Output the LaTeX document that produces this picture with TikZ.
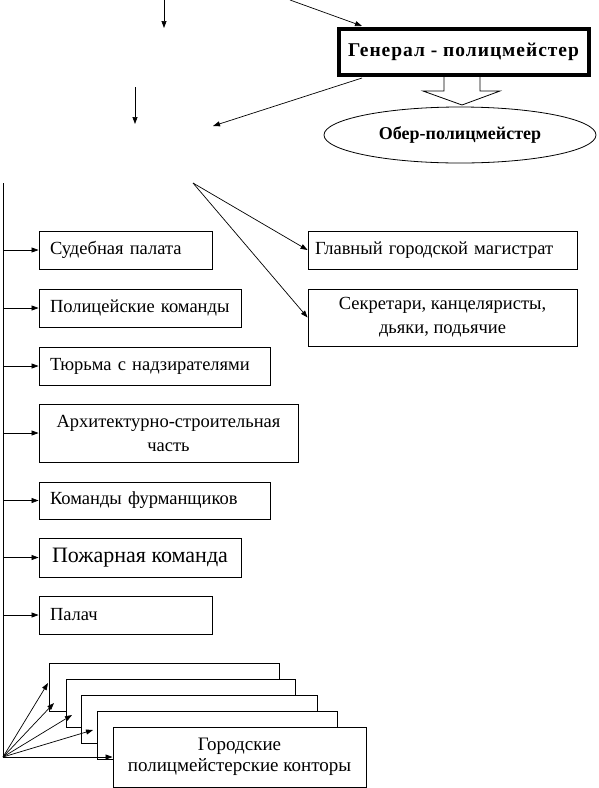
\documentclass[tikz,border=0pt]{standalone}
\usepackage{fontspec}
\setmainfont{Liberation Serif}
\usetikzlibrary{arrows.meta,shapes.geometric}
\newcommand\fsmain{\fontsize{18.5}{24}\selectfont}
\tikzset{
  box/.style={draw, line width=0.9pt, fill=white, inner sep=0pt, font=\fsmain},
  lbox/.style={box, inner xsep=11pt, align=left},
  cbox/.style={box, align=center},
  arr/.style={-{Triangle[length=7pt,width=5pt]}, line width=0.7pt},
  thinln/.style={line width=0.9pt},
}
\begin{document}
\begin{tikzpicture}[x=1pt,y=-1pt]
\useasboundingbox[fill=white] (0,0) rectangle (598,788);

% top
\node[draw, line width=4pt, minimum width=250, minimum height=46, inner sep=0pt,
      font=\bfseries\fontsize{19.5}{22}\selectfont\addfontfeatures{LetterSpace=5}]
      (gen) at (463.5,52) {Генерал - полицмейстер};
\draw[line width=0.8pt, fill=white] (444,77) -- (444,91) -- (423,91) -- (462,105) -- (500,91) -- (480,91) -- (480,77);
\node[draw, ellipse, line width=0.8pt, minimum width=272, minimum height=56, inner sep=0pt,
      font=\bfseries\fontsize{18}{20}\selectfont] (ober) at (460,135) {Обер-полицмейстер};

\coordinate (a1s) at (164,0);   \coordinate (a1e) at (164,28);
\coordinate (a2s) at (290,0);   \coordinate (a2e) at (362,26);
\coordinate (a3s) at (135,87);  \coordinate (a3e) at (135,124);
\coordinate (a4s) at (362,78);  \coordinate (a4e) at (213,126);
\draw[arr] (a1s) -- (a1e);
\draw[arr] (a2s) -- (a2e);
\draw[arr] (a3s) -- (a3e);
\draw[arr] (a4s) -- (a4e);

% left column
\node[lbox, text width=151, minimum height=38] (sud) at (125.5,250) {Судебная палата};
\node[lbox, text width=180, minimum height=38] (pol) at (140,308) {Полицейские команды};
\node[lbox, text width=209, minimum height=38] (tur) at (154.5,366) {Тюрьма с надзирателями};
\node[cbox, minimum width=259, minimum height=58] (arh) at (168.5,433) {Архитектурно-строительная\\часть};
\node[lbox, text width=209, minimum height=37] (kom) at (154.5,500.5) {Команды фурманщиков};
\node[cbox, minimum width=202, minimum height=39, font=\fontsize{22}{25}\selectfont] (poz) at (140,557.5) {Пожарная команда};
\node[lbox, text width=151, minimum height=38] (pal) at (125.5,615) {Палач};

% right column
\node[lbox, inner xsep=7pt, text width=255, minimum height=38] (glav) at (442.5,250) {Главный городской магистрат};
\node[cbox, minimum width=269, minimum height=57] (sek) at (442.5,317.5) {Секретари, канцеляристы,\\дьяки, подьячие};
\coordinate (a5s) at (193,183);
\draw[arr] (a5s) -- (glav.west);
\draw[arr] (a5s) -- (sek.west);

% spine
\coordinate (sp) at (3,183);
\coordinate (spb) at (3,757);
\draw[thinln] (sp) -- (spb);
\foreach \n in {sud,pol,tur,arh,kom,poz,pal}
  \draw[arr] (sp |- \n.west) -- (\n.west);

% stacked offices
\node[box, minimum width=230, minimum height=48] (k1) at (164,687) {};
\node[box, minimum width=229, minimum height=48] (k2) at (180.5,703) {};
\node[box, minimum width=236, minimum height=48] (k3) at (199,719) {};
\node[box, minimum width=240, minimum height=48] (k4) at (217,735) {};
\node[cbox, minimum width=253, minimum height=60, font=\fontsize{19}{21}\selectfont] (k5) at (239.5,757) {Городские\\полицмейстерские конторы};
\coordinate (t1) at (48,683);
\coordinate (t2) at (54,703);
\coordinate (t3) at (72,715);
\coordinate (t4) at (93,730);
\draw[arr] (spb) -- (t1);
\draw[arr] (spb) -- (t2);
\draw[arr] (spb) -- (t3);
\draw[arr] (spb) -- (t4);
\draw[arr] (spb) -- (k5.west);
\end{tikzpicture}
\end{document}
